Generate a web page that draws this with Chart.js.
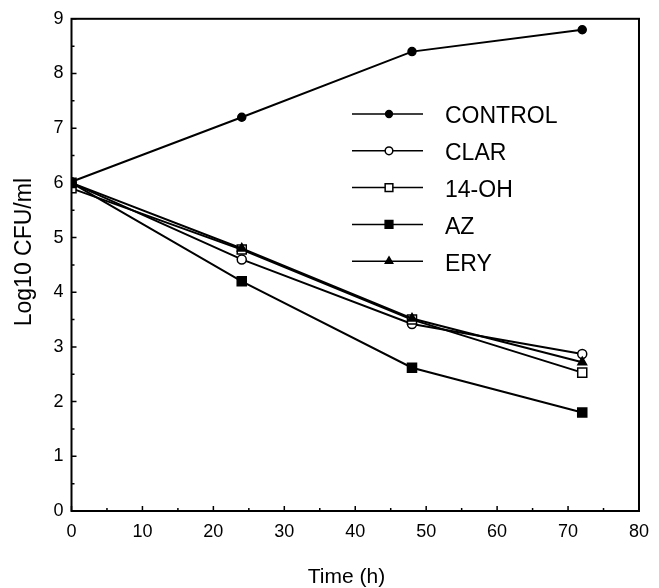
<!DOCTYPE html>
<html>
<head>
<meta charset="utf-8">
<script src="https://cdn.jsdelivr.net/npm/chart.js@4"></script>
<style>
  html, body { margin: 0; padding: 0; background: #fff; }
  #wrap { width: 659px; height: 588px; }
</style>
</head>
<body>
<div id="wrap"><canvas id="grafico"></canvas></div>
<script>
// time points (h)
var horas = [0, 24, 48, 72];
var series = ["CONTROL", "CLAR", "14-OH", "AZ", "ERY"];
var control = [6.02, 7.2, 8.4, 8.8];
var clar = [6.0, 4.6, 3.42, 2.87];
var oh14 = [5.9, 4.78, 3.5, 2.53];
var az = [6.0, 4.2, 2.62, 1.8];
var ery = [6.0, 4.8, 3.52, 2.72];
var xTicks = [0, 10, 20, 30, 40, 50, 60, 70, 80];
var yTicks = [0, 1, 2, 3, 4, 5, 6, 7, 8, 9];

var fuente = "'Liberation Sans', Arial, Helvetica, sans-serif";

function puntos(vals) {
  return vals.map(function (v, i) { return { x: horas[i], y: v }; });
}

var estilos = [
  { data: control, pointStyle: 'circle', radius: 4, fill: '#000' },
  { data: clar, pointStyle: 'circle', radius: 4.5, fill: '#fff' },
  { data: oh14, pointStyle: 'rect', radius: 6.4, fill: '#fff' },
  { data: az, pointStyle: 'rect', radius: 6.4, fill: '#000' },
  { data: ery, pointStyle: 'triangle', radius: 5, fill: '#000' }
];

var datasets = series.map(function (nombre, i) {
  var e = estilos[i];
  return {
    label: nombre,
    data: puntos(e.data),
    borderColor: '#000',
    borderWidth: 2,
    pointStyle: e.pointStyle,
    pointRadius: e.radius,
    pointHoverRadius: e.radius,
    pointBackgroundColor: e.fill,
    pointBorderColor: '#000',
    pointBorderWidth: 1.5,
    tension: 0,
    order: 5 - i
  };
});

// frame, inward ticks and the legend box inside the plot
var marco = {
  id: 'marco',
  afterDraw: function (chart) {
    var ctx = chart.ctx;
    var a = chart.chartArea;
    var sx = chart.scales.x, sy = chart.scales.y;
    ctx.save();
    ctx.strokeStyle = '#000';
    ctx.lineWidth = 2;
    ctx.strokeRect(a.left, a.top, a.right - a.left, a.bottom - a.top);
    ctx.lineWidth = 1.5;
    ctx.beginPath();
    for (var v = 0; v <= 80; v += 5) {
      var px = sx.getPixelForValue(v);
      var len = (v % 10 === 0) ? 5 : 3;
      ctx.moveTo(px, a.bottom);
      ctx.lineTo(px, a.bottom - len);
    }
    for (var w = 0; w <= 9; w += 0.5) {
      var py = sy.getPixelForValue(w);
      var l2 = (w % 1 === 0) ? 5 : 3;
      ctx.moveTo(a.left, py);
      ctx.lineTo(a.left + l2, py);
    }
    ctx.stroke();

    // legend
    var x0 = 352, x1 = 423, xm = 389, xt = 445, y0 = 116, paso = 36.8;
    ctx.font = "23px " + fuente;
    ctx.textBaseline = 'middle';
    ctx.fillStyle = '#000';
    chart.data.datasets.forEach(function (ds, i) {
      var y = y0 + i * paso;
      ctx.lineWidth = 1.5;
      ctx.strokeStyle = '#000';
      ctx.beginPath();
      ctx.moveTo(x0, y - 2);
      ctx.lineTo(x1, y - 2);
      ctx.stroke();
      ctx.fillStyle = ds.pointBackgroundColor;
      ctx.lineWidth = ds.pointBorderWidth;
      Chart.helpers.drawPoint(ctx, { pointStyle: ds.pointStyle, radius: ds.pointRadius * 0.85, borderWidth: ds.pointBorderWidth }, xm, y - 2);
      ctx.fillStyle = '#000';
      ctx.fillText(ds.label, xt, y + 1);
    });
    ctx.restore();
  }
};

var grafico = new Chart(document.getElementById('grafico').getContext('2d'), {
  type: 'line',
  data: { datasets: datasets },
  plugins: [marco],
  options: {
    responsive: true,
    maintainAspectRatio: false,
    animation: false,
    events: [],
    layout: { padding: { top: 17, right: 13.5, left: 0, bottom: 0 } },
    plugins: { legend: { display: false }, tooltip: { enabled: false } },
    scales: {
      x: {
        type: 'linear',
        min: 0, max: 80,
        afterBuildTicks: function (s) { s.ticks = xTicks.map(function (v) { return { value: v }; }); },
        afterFit: function (s) { s.height = 77; },
        grid: { display: false, drawTicks: false },
        border: { display: false },
        ticks: { color: '#000', padding: 10, font: { family: fuente, size: 18 }, maxRotation: 0 },
        title: { display: true, text: 'Time (h)   ', color: '#000', padding: { top: 0, bottom: 0 }, font: { family: fuente, size: 21, lineHeight: 1 } }
      },
      y: {
        min: 0, max: 9,
        afterBuildTicks: function (s) { s.ticks = yTicks.map(function (v) { return { value: v }; }); },
        afterFit: function (s) { s.width = 71.5; },
        grid: { display: false, drawTicks: false },
        border: { display: false },
        ticks: { color: '#000', padding: 8, font: { family: fuente, size: 18 } },
        title: { display: true, text: '    Log10 CFU/ml', color: '#000', padding: { top: 13, bottom: 0 }, font: { family: fuente, size: 23, lineHeight: 1 } }
      }
    }
  }
});
</script>
</body>
</html>
